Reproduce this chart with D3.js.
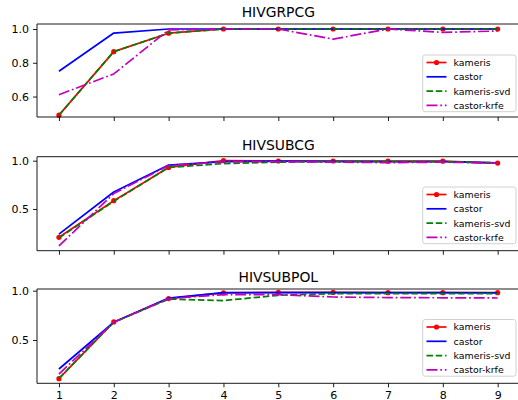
<!DOCTYPE html>
<html><head><meta charset="utf-8">
<script src="https://cdn.jsdelivr.net/npm/d3@7"></script>
<style>body{margin:0;background:#fff;}svg{display:block;font-family:"DejaVu Sans",sans-serif;}</style>
</head><body>
<svg id="c" width="518" height="400"></svg>
<script>
const xValues = [1,2,3,4,5,6,7,8,9];
const seriesNames = ["kameris","castor","kameris-svd","castor-krfe"];
const panelTitles = ["HIVGRPCG","HIVSUBCG","HIVSUBPOL"];
const yTicks1 = [0.6,0.8,1.0];
const yTicks2 = [0.5,1.0];
const yTicks3 = [0.5,1.0];

// HIVGRPCG
const grpKameris    = [0.49,0.866,0.975,1.0,1.0,1.0,1.0,1.0,1.0];
const grpCastor     = [0.75,0.976,1.0,1.0,1.0,1.0,1.0,1.0,1.0];
const grpKamerisSvd = [0.49,0.866,0.975,1.0,1.0,1.0,1.0,1.0,1.0];
const grpCastorKrfe = [0.611,0.734,0.995,1.0,1.0,0.94,1.0,0.98,0.988];
// HIVSUBCG
const subcgKameris    = [0.207,0.586,0.93,1.0,0.997,0.997,0.995,0.995,0.975];
const subcgCastor     = [0.24,0.676,0.955,0.99,0.995,0.993,0.99,0.99,0.977];
const subcgKamerisSvd = [0.2,0.58,0.93,0.97,0.985,0.99,0.99,0.99,0.978];
const subcgCastorKrfe = [0.117,0.66,0.95,0.99,0.99,0.985,0.98,0.985,0.975];
// HIVSUBPOL
const subpolKameris    = [0.108,0.683,0.92,0.977,0.982,0.982,0.98,0.98,0.98];
const subpolCastor     = [0.206,0.68,0.925,0.98,0.98,0.98,0.98,0.98,0.978];
const subpolKamerisSvd = [0.11,0.68,0.915,0.90,0.953,0.97,0.97,0.97,0.97];
const subpolCastorKrfe = [0.155,0.68,0.92,0.96,0.96,0.936,0.93,0.928,0.926];

const panels = [
  {title: panelTitles[0], ticks: yTicks1, series: [grpKameris,grpCastor,grpKamerisSvd,grpCastorKrfe],
   top: 24, bottom: 117, domain: [0.479,1.0296], legendTop: 55},
  {title: panelTitles[1], ticks: yTicks2, series: [subcgKameris,subcgCastor,subcgKamerisSvd,subcgCastorKrfe],
   top: 156.7, bottom: 250.7, domain: [0.068,1.0414], legendTop: 187},
  {title: panelTitles[2], ticks: yTicks3, series: [subpolKameris,subpolCastor,subpolKamerisSvd,subpolCastorKrfe],
   top: 289, bottom: 383.3, domain: [0.061,1.017], legendTop: 319.5}
];

const styles = [
  {color:"#ff0000", dash:null, marker:true},
  {color:"#0000ff", dash:null, marker:false},
  {color:"#008000", dash:"6.5,2.8", marker:false},
  {color:"#bf00bf", dash:"11,2.8,1.75,2.8", marker:false}
];

const svg = d3.select("#c");
const left = 37, right = 519.6;
const x = d3.scaleLinear().domain([0.6,9.4]).range([left,right]);

panels.forEach((p,pi) => {
  const y = d3.scaleLinear().domain(p.domain).range([p.bottom,p.top]);
  const g = svg.append("g");
  const clipId = "clip"+pi;
  g.append("clipPath").attr("id",clipId).append("rect")
    .attr("x",left).attr("y",p.top).attr("width",right-left).attr("height",p.bottom-p.top);

  // lines
  const line = d3.line().x((d,i)=>x(xValues[i])).y(d=>y(d));
  p.series.forEach((s,si) => {
    const st = styles[si];
    g.append("path").datum(s).attr("d",line)
      .attr("fill","none").attr("stroke",st.color).attr("stroke-width",1.7)
      .attr("stroke-dasharray",st.dash).attr("stroke-linejoin","round")
      .attr("clip-path",null);
    if (st.marker) {
      g.selectAll(null).data(s).enter().append("circle")
        .attr("cx",(d,i)=>x(xValues[i])).attr("cy",d=>y(d)).attr("r",2.6)
        .attr("fill",st.color);
    }
  });

  // spines
  g.append("line").attr("x1",left).attr("x2",left).attr("y1",p.top).attr("y2",p.bottom).attr("stroke","#000").attr("stroke-width",0.9);
  g.append("line").attr("x1",left).attr("x2",right).attr("y1",p.top).attr("y2",p.top).attr("stroke","#000").attr("stroke-width",0.9);
  g.append("line").attr("x1",left).attr("x2",right).attr("y1",p.bottom).attr("y2",p.bottom).attr("stroke","#000").attr("stroke-width",0.9);
  g.append("line").attr("x1",right).attr("x2",right).attr("y1",p.top).attr("y2",p.bottom).attr("stroke","#000").attr("stroke-width",0.9);

  // y axis
  const ya = d3.axisLeft(y).tickValues(p.ticks).tickFormat(d3.format(".1f")).tickSize(4).tickPadding(4);
  const yg = g.append("g").attr("transform",`translate(${left},0)`).call(ya);
  yg.select(".domain").remove();
  yg.selectAll("text").attr("font-size","11px").attr("fill","#000").attr("font-family","DejaVu Sans");
  yg.selectAll("line").attr("stroke","#000").attr("stroke-width",0.9);

  // x axis
  const xa = d3.axisBottom(x).tickValues(xValues).tickFormat(d3.format("d")).tickSize(4).tickPadding(4);
  const xg = g.append("g").attr("transform",`translate(0,${p.bottom})`).call(xa);
  xg.select(".domain").remove();
  xg.selectAll("line").attr("stroke","#000").attr("stroke-width",0.9);
  if (pi < 2) xg.selectAll("text").remove();
  else xg.selectAll("text").attr("font-size","11px").attr("fill","#000").attr("font-family","DejaVu Sans").attr("dy",null).attr("y",16.2);

  // title
  g.append("text").attr("x",(left+right)/2).attr("y",p.top-6.8).attr("text-anchor","middle")
    .attr("font-size","13.9px").attr("fill","#000").text(p.title);

  // legend
  const lx = 422.7, lw = 93.3, lh = 56.7, lt = p.legendTop;
  const lg = g.append("g");
  lg.append("rect").attr("x",lx).attr("y",lt).attr("width",lw).attr("height",lh).attr("rx",2.5)
    .attr("fill","#fff").attr("fill-opacity",0.8).attr("stroke","#cccccc").attr("stroke-width",0.9);
  seriesNames.forEach((name,si) => {
    const st = styles[si];
    const ey = lt + 7.5 + si*14.3;
    lg.append("line").attr("x1",426.5).attr("x2",446.5).attr("y1",ey).attr("y2",ey)
      .attr("stroke",st.color).attr("stroke-width",1.7).attr("stroke-dasharray",st.dash);
    if (st.marker) lg.append("circle").attr("cx",436.5).attr("cy",ey).attr("r",2.6).attr("fill",st.color);
    lg.append("text").attr("x",453.5).attr("y",ey+3.4).attr("font-size","9.4px").attr("fill","#000").text(name);
  });
});
</script>
</body></html>
